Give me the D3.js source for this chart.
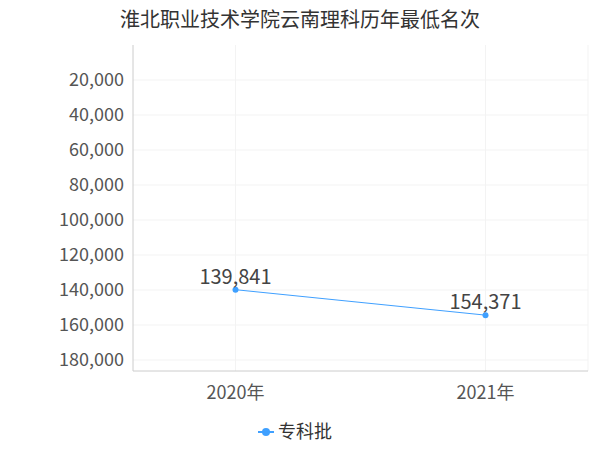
<!DOCTYPE html>
<html><head><meta charset="utf-8">
<script src="https://cdn.jsdelivr.net/npm/d3@7"></script>
<style>body{margin:0;background:#fff;font-family:"Noto Sans CJK SC","Noto Sans",sans-serif}</style>
</head><body><svg id="c" width="600" height="450"></svg>
<script>
const years = ["2020年", "2021年"];
const ranks = [139841, 154371];
const yTicks = [20000, 40000, 60000, 80000, 100000, 120000, 140000, 160000, 180000];
const seriesName = "专科批";

const svg = d3.select("#c");
const plotL = 133, plotR = 588, plotT = 45, plotB = 371;
const x = d3.scalePoint().domain(years).range([plotL, plotR]).padding(0.41);
const y = d3.scaleLinear().domain([0, 186300]).range([plotT, plotB]);
const fmt = d3.format(",");

svg.append("text").attr("x", 300).attr("y", 27).attr("text-anchor", "middle")
  .attr("font-size", 20).attr("fill", "#333").text("淮北职业技术学院云南理科历年最低名次");

// grid
svg.append("g").selectAll("line").data(yTicks).join("line")
  .attr("x1", plotL).attr("x2", plotR).attr("y1", d => y(d)).attr("y2", d => y(d))
  .attr("stroke", "#f3f3f3");
svg.append("g").selectAll("line").data(years).join("line")
  .attr("y1", plotT).attr("y2", plotB).attr("x1", d => x(d)).attr("x2", d => x(d))
  .attr("stroke", "#f3f3f3");
svg.append("line").attr("x1", plotR).attr("x2", plotR).attr("y1", plotT).attr("y2", plotB).attr("stroke", "#f3f3f3");

// axes
svg.append("line").attr("x1", plotL).attr("x2", plotL).attr("y1", plotT).attr("y2", plotB).attr("stroke", "#ccc");
svg.append("line").attr("x1", plotL).attr("x2", plotR).attr("y1", plotB).attr("y2", plotB).attr("stroke", "#ccc");
svg.append("g").selectAll("text").data(yTicks).join("text")
  .attr("x", 124).attr("y", d => y(d)).attr("dy", "0.35em").attr("text-anchor", "end")
  .attr("font-size", 18).attr("fill", "#555").text(fmt);
svg.append("g").selectAll("text").data(years).join("text")
  .attr("x", d => x(d)).attr("y", 399).attr("text-anchor", "middle")
  .attr("font-size", 18).attr("fill", "#555").text(d => d);

// series
const pts = years.map((d, i) => [x(d), y(ranks[i])]);
svg.append("path").attr("d", d3.line()(pts)).attr("fill", "none").attr("stroke", "#3fa0ff").attr("stroke-width", 1);
svg.append("g").selectAll("circle").data(pts).join("circle")
  .attr("cx", d => d[0]).attr("cy", d => d[1]).attr("r", 3).attr("fill", "#3fa0ff");
svg.append("g").selectAll("text").data(pts).join("text")
  .attr("x", d => d[0]).attr("y", d => d[1] - 6).attr("text-anchor", "middle")
  .attr("font-size", 20).attr("fill", "#444").text((d, i) => fmt(ranks[i]));

// legend
const lg = svg.append("g").attr("transform", "translate(258,432)");
lg.append("line").attr("x1", 0).attr("x2", 16).attr("stroke", "#3fa0ff").attr("stroke-width", 2);
lg.append("circle").attr("cx", 8).attr("r", 4).attr("fill", "#3fa0ff");
lg.append("text").attr("x", 20).attr("dy", "0.35em").attr("font-size", 18).attr("fill", "#333").text(seriesName);
</script></body></html>
